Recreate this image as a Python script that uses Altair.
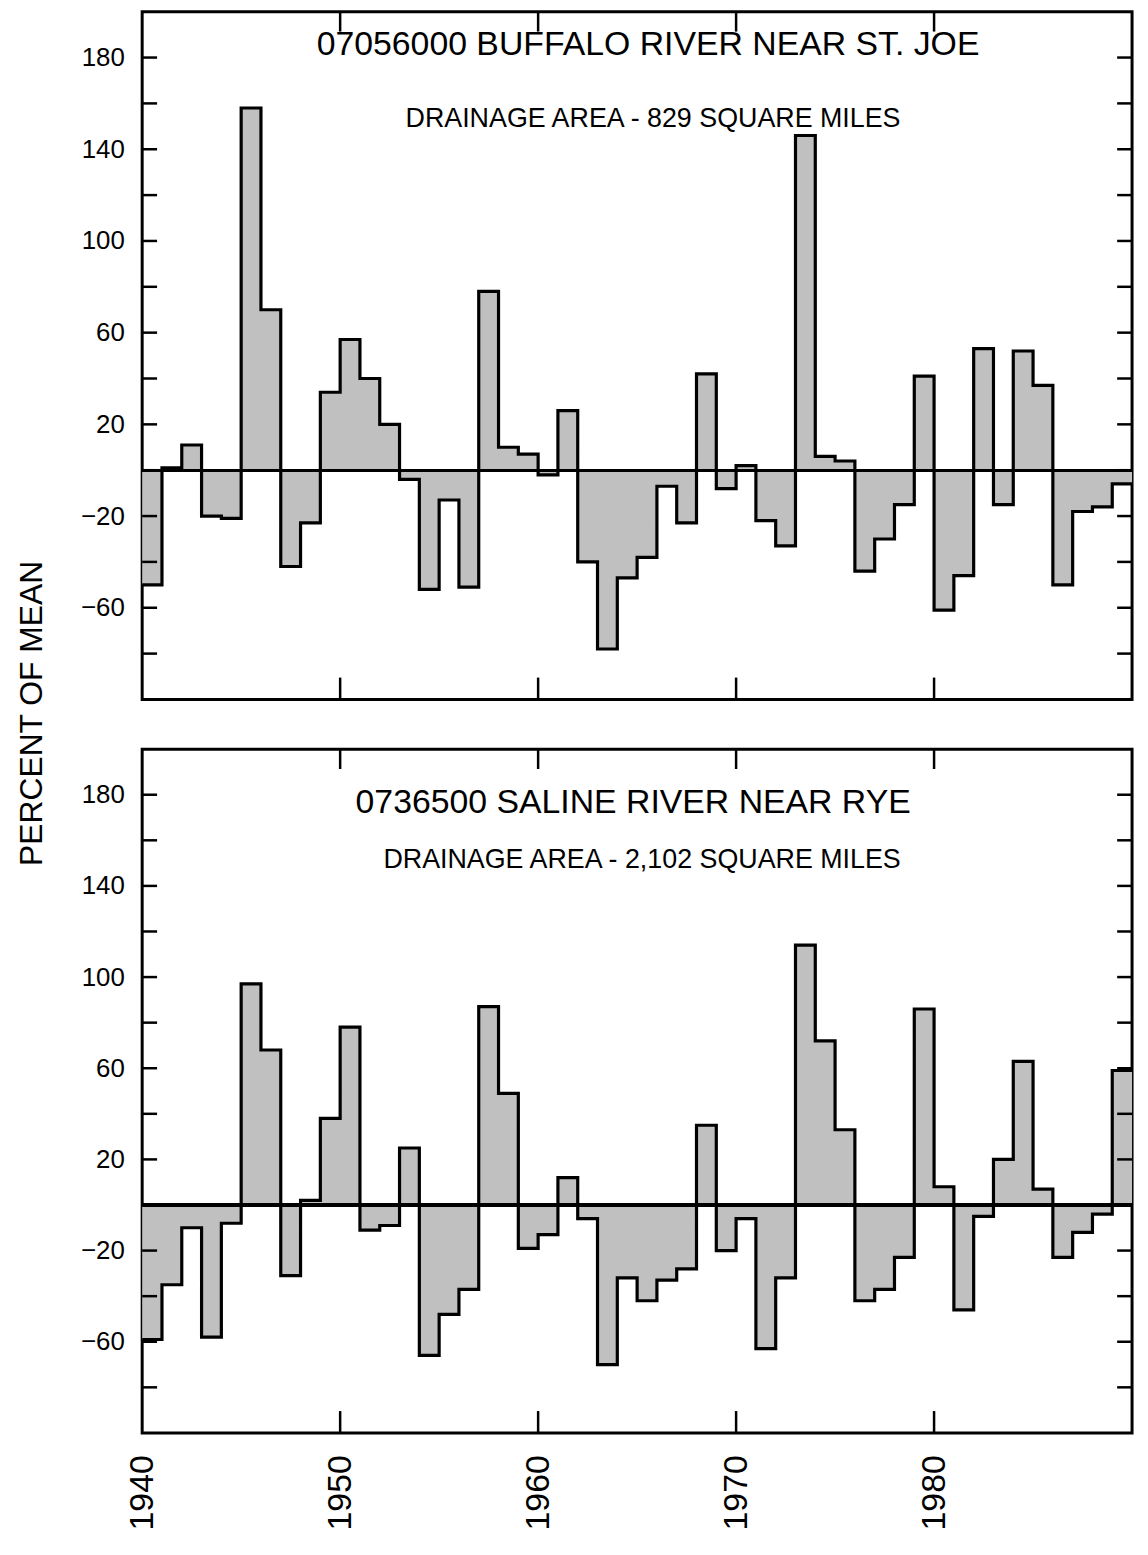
import altair as alt
import pandas as pd

years = list(range(1940, 1990))

buffalo = [-50, 1, 11, -20, -21, 158, 70, -42, -23, 34,
           57, 40, 20, -4, -52, -13, -51, 78, 10, 7,
           -2, 26, -40, -78, -47, -38, -7, -23, 42, -8,
           2, -22, -33, 146, 6, 4, -44, -30, -15, 41,
           -61, -46, 53, -15, 52, 37, -50, -18, -16, -6]

saline = [-59, -35, -10, -58, -8, 97, 68, -31, 2, 38,
          78, -11, -9, 25, -66, -48, -37, 87, 49, -19,
          -13, 12, -6, -70, -32, -42, -33, -28, 35, -20,
          -6, -63, -32, 114, 72, 33, -42, -37, -23, 86,
          8, -46, -5, 20, 63, 7, -23, -12, -4, 59]

y_label_values = [180, 140, 100, 60, 20, -20, -60]
y_tick_values = list(range(-80, 200, 20))
x_label_values = [1940, 1950, 1960, 1970, 1980]
x_tick_values = [1950, 1960, 1970, 1980]

FONT = "Liberation Sans"
FILL = "#c0c0c0"
W = 996


def panel(vals, title, sub, height, show_x, tpos, spos, ylabel=None):
    line_df = pd.DataFrame({"year": years + [1990], "value": vals + [vals[-1]]})
    xs = alt.Scale(domain=[1940, 1990], nice=False, zero=False)
    ys = alt.Scale(domain=[-100, 200], nice=False, zero=False)

    if show_x:
        xaxis = alt.Axis(values=x_label_values, labelAngle=270, labelFontSize=34,
                         labelFont=FONT, labelColor="black", format="d",
                         ticks=False, domain=False, grid=False, title=None,
                         labelPadding=22, labelFlush=False, labelOverlap=False)
    else:
        xaxis = None
    yaxis = alt.Axis(values=y_label_values, labelFontSize=26, labelFont=FONT,
                     labelColor="black", ticks=False, domain=False, grid=False,
                     title=None, labelPadding=18, labelFlush=False, labelOverlap=False)

    fill = alt.Chart(line_df).mark_area(interpolate="step-after", color=FILL).encode(
        x=alt.X("year:Q", scale=xs, axis=xaxis),
        y=alt.Y("value:Q", scale=ys, axis=yaxis),
        y2=alt.datum(0),
    )
    base = alt.Chart(line_df).mark_rule(color="black", strokeWidth=2.5).encode(
        y=alt.datum(0)
    )
    outline = alt.Chart(line_df).mark_line(
        interpolate="step-after", color="black", strokeWidth=3.2
    ).encode(x=alt.X("year:Q", scale=xs, axis=xaxis),
             y=alt.Y("value:Q", scale=ys, axis=yaxis))

    ytdf = pd.DataFrame({"v": y_tick_values})
    left_t = alt.Chart(ytdf).mark_rule(color="black", strokeWidth=2.5).encode(
        y=alt.Y("v:Q", scale=ys, axis=yaxis), x=alt.value(0), x2=alt.value(15))
    right_t = alt.Chart(ytdf).mark_rule(color="black", strokeWidth=2.5).encode(
        y=alt.Y("v:Q", scale=ys, axis=yaxis), x=alt.value(W - 15), x2=alt.value(W))
    xtdf = pd.DataFrame({"yr": x_tick_values})
    top_t = alt.Chart(xtdf).mark_rule(color="black", strokeWidth=2.5).encode(
        x=alt.X("yr:Q", scale=xs, axis=xaxis), y=alt.value(0), y2=alt.value(20))
    bot_t = alt.Chart(xtdf).mark_rule(color="black", strokeWidth=2.5).encode(
        x=alt.X("yr:Q", scale=xs, axis=xaxis), y=alt.value(height - 22), y2=alt.value(height))

    tdf = pd.DataFrame({"t": [title]})
    ttl = alt.Chart(tdf).mark_text(font=FONT, fontSize=34, color="black",
                                   align="center", baseline="middle").encode(
        text="t:N", x=alt.value(tpos[0]), y=alt.value(tpos[1]))
    sdf = pd.DataFrame({"t": [sub]})
    sttl = alt.Chart(sdf).mark_text(font=FONT, fontSize=27, color="black",
                                    align="center", baseline="middle").encode(
        text="t:N", x=alt.value(spos[0]), y=alt.value(spos[1]))

    layers = [fill, base, outline, left_t, right_t, top_t, bot_t, ttl, sttl]
    if ylabel is not None:
        ldf = pd.DataFrame({"t": [ylabel]})
        layers.append(alt.Chart(ldf).mark_text(font=FONT, fontSize=32, color="black",
                                               align="center", baseline="middle",
                                               angle=270).encode(
            text="t:N", x=alt.value(-111), y=alt.value(706)))
    return alt.layer(*layers).properties(width=W, height=height)


top = panel(buffalo, "07056000 BUFFALO RIVER NEAR ST. JOE",
            "DRAINAGE AREA - 829 SQUARE MILES", 692, False,
            (509, 34), (514, 108), ylabel="PERCENT OF MEAN")
bottom = panel(saline, "0736500 SALINE RIVER NEAR RYE",
               "DRAINAGE AREA - 2,102 SQUARE MILES", 688, True,
               (494, 54), (503, 112))

chart = alt.vconcat(top, bottom, spacing=50, bounds="flush").properties(
    padding={"top": -4, "left": 6, "right": 0, "bottom": 0},
    background="white"
).configure_view(stroke="black", strokeWidth=3)

chart.save("out.html", embed_options={"renderer": "svg", "actions": False})
